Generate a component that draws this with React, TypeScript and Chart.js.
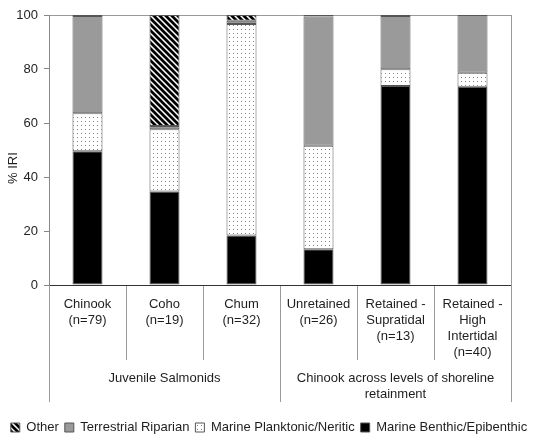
import React, { useEffect, useRef } from 'react';
import { Chart, registerables } from 'chart.js';

Chart.register(...registerables);

const categoryLabels = [
  ['Chinook', '(n=79)'],
  ['Coho', '(n=19)'],
  ['Chum', '(n=32)'],
  ['Unretained', '(n=26)'],
  ['Retained -', 'Supratidal', '(n=13)'],
  ['Retained -', 'High', 'Intertidal', '(n=40)'],
];
const groupLabels = ['Juvenile Salmonids', ['Chinook across levels of shoreline', 'retainment']];
const yTicks = [0, 20, 40, 60, 80, 100];
const yTitle = '% IRI';

const benthic = [49.5, 34.6, 18.3, 13.2, 73.7, 73.4];
const planktonic = [14.1, 23.1, 78.4, 38.4, 6.2, 5.2];
const terrestrial = [36.0, 1.2, 1.2, 47.8, 19.7, 21.4];
const other = [0.4, 41.1, 2.1, 0.6, 0.4, 0];

const FONT = "'Liberation Sans', Arial, Helvetica, sans-serif";
const TEXT = '#1e1e1e';

function dotPattern(): CanvasPattern | string {
  const c = document.createElement('canvas');
  c.width = 4;
  c.height = 4;
  const g = c.getContext('2d');
  if (!g) return '#fff';
  g.fillStyle = '#fff';
  g.fillRect(0, 0, 4, 4);
  g.fillStyle = '#808080';
  g.fillRect(1, 1, 1, 1);
  return g.createPattern(c, 'repeat') || '#fff';
}

function hatchPattern(): CanvasPattern | string {
  const c = document.createElement('canvas');
  c.width = 6;
  c.height = 6;
  const g = c.getContext('2d');
  if (!g) return '#888';
  g.fillStyle = '#fff';
  g.fillRect(0, 0, 6, 6);
  g.strokeStyle = '#000';
  g.lineWidth = 2.7;
  g.lineCap = 'square';
  g.beginPath();
  g.moveTo(-1, -1); g.lineTo(7, 7);
  g.moveTo(-1, 5); g.lineTo(1, 7);
  g.moveTo(5, -1); g.lineTo(7, 1);
  g.stroke();
  return g.createPattern(c, 'repeat') || '#888';
}

export default function App() {
  const ref = useRef<HTMLCanvasElement | null>(null);

  useEffect(() => {
    if (!ref.current) return;
    Chart.defaults.font.family = FONT;
    Chart.defaults.color = TEXT;
    const border = '#555';
    const chart = new Chart(ref.current, {
      type: 'bar',
      data: {
        labels: categoryLabels as any,
        datasets: [
          { label: 'Marine Benthic/Epibenthic', data: benthic, backgroundColor: '#000', borderColor: border, borderWidth: 1, borderSkipped: false },
          { label: 'Marine Planktonic/Neritic', data: planktonic, backgroundColor: dotPattern() as any, borderColor: border, borderWidth: 1, borderSkipped: false },
          { label: 'Terrestrial Riparian', data: terrestrial, backgroundColor: '#9a9a9a', borderColor: border, borderWidth: 1, borderSkipped: false },
          { label: 'Other', data: other, backgroundColor: hatchPattern() as any, borderColor: border, borderWidth: 1, borderSkipped: false },
        ],
      },
      options: {
        responsive: false,
        animation: false,
        events: [],
        layout: { padding: { top: 15, right: 0, bottom: -8, left: 0 } },
        datasets: { bar: { categoryPercentage: 1, barPercentage: 0.39 } },
        plugins: {
          tooltip: { enabled: false },
          legend: {
            position: 'bottom',
            reverse: true,
            labels: {
              boxWidth: 9,
              boxHeight: 9,
              padding: 6,
              color: TEXT,
              font: { size: 13, family: FONT },
            },
          },
        },
        scales: {
          x: {
            type: 'category',
            stacked: true,
            position: 'bottom',
            weight: 0,
            afterFit: (s: any) => { s.height = 75; },
            border: { display: true, color: '#333', width: 1 },
            grid: {
              offset: true,
              drawOnChartArea: false,
              drawTicks: true,
              tickLength: 75,
              color: '#9a9a9a',
              tickColor: '#9a9a9a',
            },
            ticks: {
              autoSkip: false,
              maxRotation: 0,
              minRotation: 0,
              padding: -64,
              color: TEXT,
              font: { size: 13, family: FONT, lineHeight: 1.24 },
            },
          },
          x2: {
            type: 'category',
            labels: groupLabels as any,
            position: 'bottom',
            weight: 1,
            offset: true,
            afterFit: (s: any) => { s.height = 55; },
            border: { display: false },
            grid: {
              offset: true,
              drawOnChartArea: false,
              drawTicks: true,
              tickLength: 42,
              color: '#9a9a9a',
              tickColor: '#9a9a9a',
            },
            ticks: {
              autoSkip: false,
              maxRotation: 0,
              minRotation: 0,
              padding: -32,
              color: TEXT,
              font: { size: 13, family: FONT, lineHeight: 1.24 },
            },
          },
          y: {
            type: 'linear',
            stacked: true,
            min: 0,
            max: 100,
            position: 'left',
            afterFit: (s: any) => { s.width = 49; },
            afterBuildTicks: (s: any) => { s.ticks = yTicks.map((v) => ({ value: v })); },
            border: { display: true, color: '#888', width: 1 },
            grid: {
              drawOnChartArea: true,
              drawTicks: true,
              tickLength: 5,
              color: (ctx: any) => (ctx.tick && ctx.tick.value === 100 ? '#999' : 'rgba(0,0,0,0)'),
              tickColor: '#888',
            },
            ticks: {
              padding: 6,
              color: TEXT,
              font: { size: 13, family: FONT },
            },
            title: {
              display: true,
              text: yTitle + '          ',
              color: TEXT,
              font: { size: 13, family: FONT },
              padding: { top: 6, bottom: 0 },
            },
          },
          yRight: {
            type: 'linear',
            position: 'right',
            min: 0,
            max: 100,
            afterFit: (s: any) => { s.width = 27; },
            border: { display: true, color: '#999', width: 1 },
            grid: { display: false, drawOnChartArea: false, drawTicks: false },
            ticks: { display: false },
          },
        },
      } as any,
    });
    return () => chart.destroy();
  }, []);

  return (
    <div style={{ position: 'absolute', left: 0, top: 0, width: 538, height: 436, background: '#fff' }}>
      <canvas ref={ref} width={538} height={436} style={{ display: 'block' }} />
    </div>
  );
}
